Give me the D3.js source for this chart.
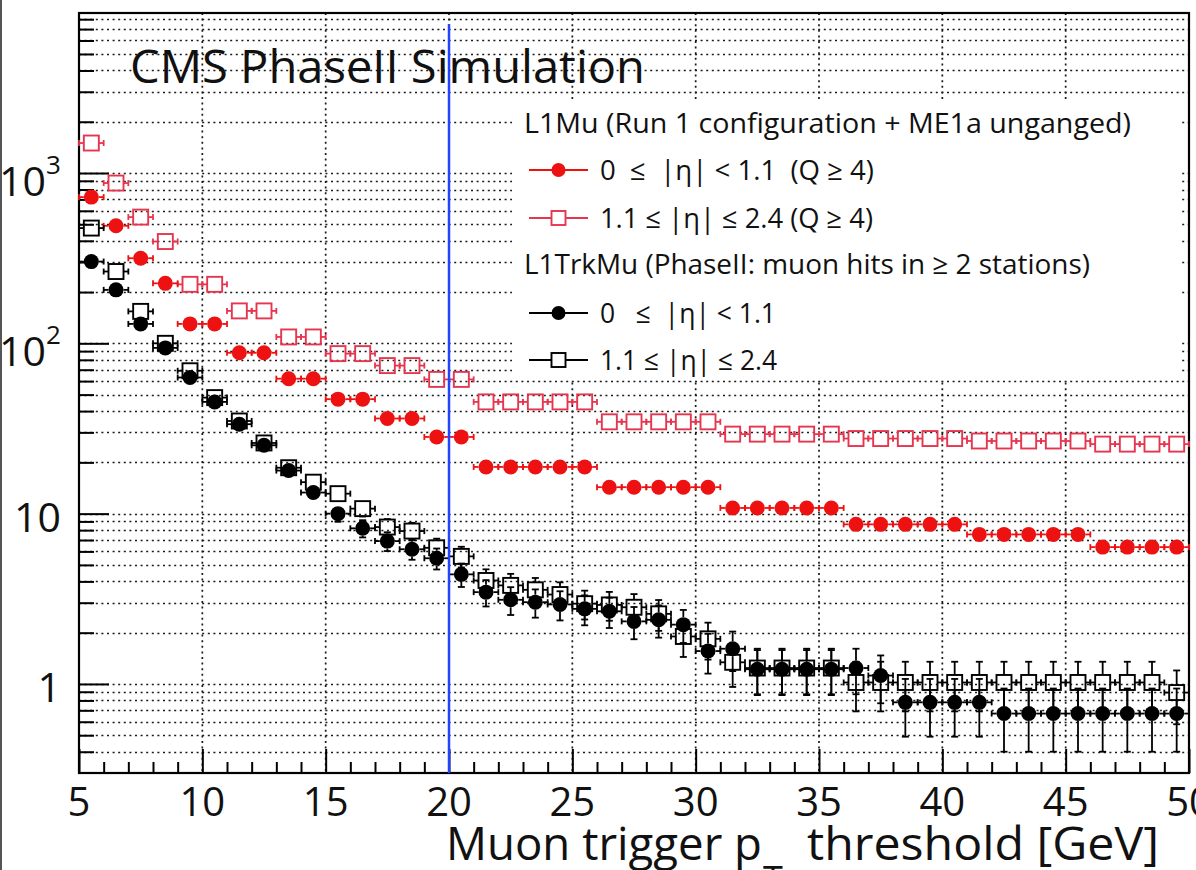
<!DOCTYPE html>
<html><head><meta charset="utf-8">
<script src="https://cdn.jsdelivr.net/npm/d3@7"></script>
<style>
html,body{margin:0;padding:0;background:#fff;overflow:hidden}
svg{display:block}
text{font-family:"Open Sans",sans-serif;fill:#111}
</style></head><body>
<svg id="chart" width="1196" height="870"></svg>
<script>
// ---------------- data ----------------
const binLow = [5,6,7,8,9,10,11,12,13,14,15,16,17,18,19,20,21,22,23,24,25,26,27,28,29,30,31,32,33,34,35,36,37,38,39,40,41,42,43,44,45,46,47,48,49];
const binWidth = 1;

// L1Mu (Run 1 configuration + ME1a unganged), 0 <= |eta| < 1.1 (Q>=4)
const l1muCentral = [722,490,316,225,130,130,88,88,62,62,47,47,36.2,36.2,28.2,28.2,
  18.8,18.8,18.8,18.8,18.8,14.3,14.3,14.3,14.3,14.3,10.8,10.8,10.8,10.8,10.8,
  8.65,8.65,8.65,8.65,8.65,7.55,7.55,7.55,7.55,7.55,6.36,6.36,6.36,6.36];
// L1Mu, 1.1 <= |eta| <= 2.4 (Q>=4)
const l1muForward = [1500,873,551,396,222,222,155,155,109,109,87,87,74,74,61.4,61.4,
  45.3,45.3,45.3,45.3,45.3,34.6,34.6,34.6,34.6,34.6,29.3,29.3,29.3,29.3,29.3,
  27.6,27.6,27.6,27.6,27.6,26.7,26.7,26.7,26.7,26.7,25.6,25.6,25.6,25.6];
// L1TrkMu, 0 <= |eta| < 1.1
const trkCentral = [302,206,130,94,63,45.3,33.5,25.2,17.9,13.3,10.0,8.2,6.9,6.18,5.47,4.4,
  3.46,3.12,3.02,2.93,2.76,2.67,2.33,2.38,2.23,1.56,1.61,1.22,1.22,1.22,1.22,1.24,1.12,
  0.78,0.78,0.78,0.78,0.67,0.67,0.67,0.67,0.67,0.67,0.67,0.67];
const trkCentralErr = [5.7,4.7,3.8,3.2,2.6,2.2,1.9,1.66,1.4,1.2,1.04,0.95,0.87,0.82,0.77,0.69,
  0.61,0.58,0.57,0.57,0.55,0.54,0.5,0.51,0.49,0.41,0.42,0.36,0.36,0.36,0.36,0.37,0.35,
  0.29,0.29,0.29,0.29,0.27,0.27,0.27,0.27,0.27,0.27,0.27,0.27];
// L1TrkMu, 1.1 <= |eta| <= 2.4
const trkForward = [475,264,154,100,69,48,35,26,18.6,15.3,13.1,10.7,8.34,7.9,6.3,5.61,
  4.05,3.79,3.57,3.35,2.96,2.91,2.82,2.58,1.9,1.84,1.34,1.24,1.24,1.24,1.24,
  1.02,1.02,1.02,1.02,1.02,1.02,1.02,1.02,1.02,1.02,1.02,1.02,1.02,0.89];
const trkForwardErr = [7.2,5.4,4.1,3.3,2.7,2.3,1.95,1.7,1.42,1.29,1.19,1.08,0.95,0.93,0.83,0.78,
  0.66,0.64,0.62,0.6,0.57,0.56,0.55,0.53,0.46,0.45,0.38,0.37,0.37,0.37,0.37,
  0.33,0.33,0.33,0.33,0.33,0.33,0.33,0.33,0.33,0.33,0.33,0.33,0.33,0.31];

const xDomain = [5, 50];
const yDomain = [0.3, 8700];
const xMajorTicks = [5,10,15,20,25,30,35,40,45,50];
const xTickLabels = ["5","10","15","20","25","30","35","40","45","50"];
const yLabelValues = [1, 10, 100, 1000];
const yLabelBase = ["1","10","10","10"];
const yLabelExp = ["","","2","3"];
const thresholdLine = 20;

const titleText = "CMS PhaseII Simulation";
const xTitleMain = "Muon trigger p";
const xTitleSub = "T";
const xTitleRest = "threshold [GeV]";
const legendHeaders = ["L1Mu (Run 1 configuration + ME1a unganged)", "L1TrkMu (PhaseII: muon hits in \u2265 2 stations)"];
const legendLabels = ["0  \u2264  |\u03b7| < 1.1  (Q \u2265 4)", "1.1 \u2264 |\u03b7| \u2264 2.4 (Q \u2265 4)", "0   \u2264  |\u03b7| < 1.1", "1.1 \u2264 |\u03b7| \u2264 2.4"];

// ---------------- layout ----------------
const svg = d3.select("#chart");
const X0 = 79, X1 = 1189, Y0 = 13, Y1 = 773;
const x = d3.scaleLinear().domain(xDomain).range([X0, X1]);
const y = d3.scaleLog().domain(yDomain).range([Y1, Y0]);

const RED = "#ee1111", PINK = "#e6364f", BLACK = "#000";
const R = 7.5;

svg.append("rect").attr("width",1196).attr("height",870).attr("fill","#fff");
svg.append("line").attr("x1",1).attr("x2",1).attr("y1",0).attr("y2",870)
  .attr("stroke","#555").attr("stroke-width",2);

// grid
const yGrid = [];
for (let e = -1; e <= 3; e++) for (let m = 1; m <= 9; m++) {
  const v = m * Math.pow(10, e);
  if (v > yDomain[0] * 1.001 && v < yDomain[1]) yGrid.push(v);
}
const grid = svg.append("g").attr("stroke","#1a1a1a").attr("stroke-width",1.7).attr("stroke-dasharray","2 3.6");
grid.selectAll("line.h").data(yGrid).join("line").attr("class","h")
  .attr("x1",X0).attr("x2",X1).attr("y1",d=>Math.round(y(d))+0.5).attr("y2",d=>Math.round(y(d))+0.5);
grid.selectAll("line.v").data(xMajorTicks.filter(v=>v>xDomain[0]&&v<xDomain[1])).join("line").attr("class","v")
  .attr("y1",Y0).attr("y2",Y1).attr("x1",d=>x(d)).attr("x2",d=>x(d));

// legend background
svg.append("rect").attr("x",512).attr("y",100).attr("width",668).attr("height",280).attr("fill","#fff");

// axes ticks (inward)
const minorX = d3.range(xDomain[0], xDomain[1]+1).filter(v=>v%5!==0);
const axB1 = svg.append("g").attr("transform",`translate(0,${Y1})`)
  .call(d3.axisBottom(x).tickValues(minorX).tickSize(-11).tickFormat(""));
const axB2 = svg.append("g").attr("transform",`translate(0,${Y1})`)
  .call(d3.axisBottom(x).tickValues(xMajorTicks).tickSize(-24).tickFormat(""));
const axL1 = svg.append("g").attr("transform",`translate(${X0},0)`)
  .call(d3.axisLeft(y).tickValues(yGrid.filter(v=>!yLabelValues.includes(v))).tickSize(-15).tickFormat(""));
const axL2 = svg.append("g").attr("transform",`translate(${X0},0)`)
  .call(d3.axisLeft(y).tickValues(yLabelValues).tickSize(-30).tickFormat(""));
[axB1,axB2,axL1,axL2].forEach(a=>{a.select(".domain").remove(); a.selectAll("line").attr("stroke","#000").attr("stroke-width",2);});

// frame
svg.append("rect").attr("x",X0).attr("y",Y0).attr("width",X1-X0).attr("height",Y1-Y0)
  .attr("fill","none").attr("stroke","#000").attr("stroke-width",2.2);

// tick labels
svg.append("g").selectAll("text").data(xMajorTicks).join("text")
  .attr("x",d=>x(d)).attr("y",816).attr("text-anchor","middle").attr("font-size",40)
  .text((d,i)=>xTickLabels[i]);
const yl = svg.append("g");
yLabelValues.forEach((v,i)=>{
  if (yLabelExp[i] === "") {
    yl.append("text").attr("x",61).attr("y",y(v)+18).attr("text-anchor","end").attr("font-size",41).text(yLabelBase[i]);
  } else {
    yl.append("text").attr("x",46).attr("y",y(v)+23).attr("text-anchor","end").attr("font-size",41).text(yLabelBase[i]);
    yl.append("text").attr("x",46).attr("y",y(v)+1).attr("font-size",26).text(yLabelExp[i]);
  }
});

// series drawing
function drawSeries(vals, errs, shape, color) {
  const g = svg.append("g").attr("stroke",color).attr("stroke-width",1.8);
  binLow.forEach((b,i)=>{
    const v = vals[i];
    const cx = x(b + binWidth/2), cy = y(v);
    const xl = x(b), xr = x(b + binWidth);
    if (cx - R > xl) {
      g.append("line").attr("x1",xl).attr("x2",cx-R).attr("y1",cy).attr("y2",cy);
      g.append("line").attr("x1",xl).attr("x2",xl).attr("y1",cy-3).attr("y2",cy+3);
      g.append("line").attr("x1",cx+R).attr("x2",xr).attr("y1",cy).attr("y2",cy);
      g.append("line").attr("x1",xr).attr("x2",xr).attr("y1",cy-3).attr("y2",cy+3);
    }
    if (errs) {
      const e = errs[i];
      const yt = y(v + e), yb = y(Math.max(v - e, yDomain[0]));
      if (cy - yt > R) {
        g.append("line").attr("x1",cx).attr("x2",cx).attr("y1",yt).attr("y2",cy-R);
        g.append("line").attr("x1",cx-3.5).attr("x2",cx+3.5).attr("y1",yt).attr("y2",yt);
      }
      if (yb - cy > R) {
        g.append("line").attr("x1",cx).attr("x2",cx).attr("y1",cy+R).attr("y2",yb);
        g.append("line").attr("x1",cx-3.5).attr("x2",cx+3.5).attr("y1",yb).attr("y2",yb);
      }
    }
    if (shape === "circle") {
      g.append("circle").attr("cx",cx).attr("cy",cy).attr("r",R).attr("fill",color).attr("stroke","none");
    } else {
      g.append("rect").attr("x",cx-R).attr("y",cy-R).attr("width",2*R).attr("height",2*R)
        .attr("fill","none").attr("stroke",color).attr("stroke-width",1.9);
    }
  });
}
drawSeries(l1muForward, null, "square", PINK);
drawSeries(l1muCentral, null, "circle", RED);
drawSeries(trkForward, trkForwardErr, "square", BLACK);
drawSeries(trkCentral, trkCentralErr, "circle", BLACK);

// threshold line
svg.append("line").attr("x1",x(thresholdLine)).attr("x2",x(thresholdLine))
  .attr("y1",y(7500)).attr("y2",Y1).attr("stroke","#2244ff").attr("stroke-width",2.5);

// legend
const leg = svg.append("g");
const headerY = [123, 264];
const headerLen = [607, 566];
headerY.forEach((yy,i)=>{
  leg.append("text").attr("x",524).attr("y",yy+10).attr("font-size",28)
    .attr("textLength",headerLen[i]).attr("lengthAdjust","spacingAndGlyphs").text(legendHeaders[i]);
});
const entryY = [170, 218, 313, 360];
const entryColor = [RED, PINK, BLACK, BLACK];
const entryShape = ["circle","square","circle","square"];
const entryLen = [274, 273, 176, 177];
entryY.forEach((yy,i)=>{
  leg.append("line").attr("x1",529).attr("x2",588).attr("y1",yy).attr("y2",yy)
    .attr("stroke",entryColor[i]).attr("stroke-width",2);
  if (entryShape[i]==="circle") {
    leg.append("circle").attr("cx",558.5).attr("cy",yy).attr("r",7).attr("fill",entryColor[i]);
  } else {
    leg.append("rect").attr("x",551.5).attr("y",yy-7).attr("width",14).attr("height",14)
      .attr("fill","#fff").attr("stroke",entryColor[i]).attr("stroke-width",1.9);
  }
  leg.append("text").attr("x",600).attr("y",yy+10).attr("font-size",28).style("white-space","pre")
    .attr("textLength",entryLen[i]).attr("lengthAdjust","spacingAndGlyphs").text(legendLabels[i]);
});

// title
svg.append("text").attr("x",130).attr("y",83).attr("font-size",46)
  .attr("textLength",515).attr("lengthAdjust","spacingAndGlyphs").text(titleText);

// x-axis title
svg.append("text").attr("x",446).attr("y",860).attr("font-size",45)
  .attr("textLength",316).attr("lengthAdjust","spacingAndGlyphs").text(xTitleMain);
svg.append("text").attr("x",763).attr("y",892).attr("font-size",36).text(xTitleSub);
svg.append("text").attr("x",807).attr("y",860).attr("font-size",45)
  .attr("textLength",352).attr("lengthAdjust","spacingAndGlyphs").text(xTitleRest);
</script>
</body></html>
